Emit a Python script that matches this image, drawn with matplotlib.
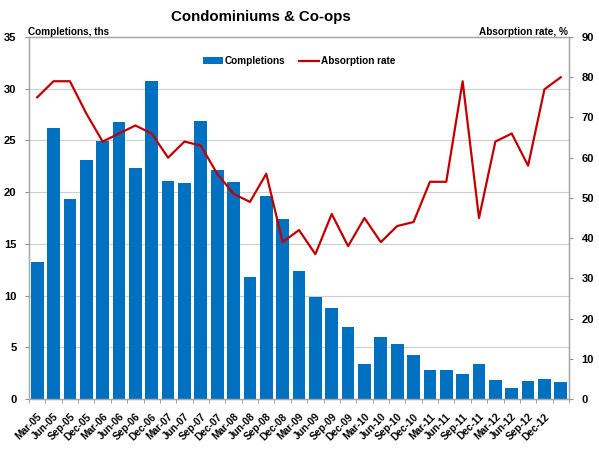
import matplotlib
matplotlib.use("Agg")
import matplotlib.pyplot as plt
import numpy as np

plt.rcParams['font.family'] = ['Liberation Sans', 'DejaVu Sans']
plt.rcParams['font.weight'] = 'bold'

labels = ["Mar-05", "Jun-05", "Sep-05", "Dec-05", "Mar-06", "Jun-06", "Sep-06", "Dec-06",
          "Mar-07", "Jun-07", "Sep-07", "Dec-07", "Mar-08", "Jun-08", "Sep-08", "Dec-08",
          "Mar-09", "Jun-09", "Sep-09", "Dec-09", "Mar-10", "Jun-10", "Sep-10", "Dec-10",
          "Mar-11", "Jun-11", "Sep-11", "Dec-11", "Mar-12", "Jun-12", "Sep-12", "Dec-12", ""]
completions = [13.2, 26.2, 19.3, 23.1, 24.9, 26.8, 22.3, 30.7, 21.1, 20.9, 26.9, 22.1,
               21.0, 11.8, 19.6, 17.4, 12.4, 9.9, 8.8, 7.0, 3.4, 6.0, 5.3, 4.3,
               2.8, 2.8, 2.4, 3.4, 1.8, 1.1, 1.7, 1.9, 1.6]
absorption = [75, 79, 79, 71, 64, 66, 68, 66, 60, 64, 63, 56, 51, 49, 56, 39, 42,
              36, 46, 38, 45, 39, 43, 44, 54, 54, 79, 45, 64, 66, 58, 77, 80]

x = np.arange(len(completions))

fig = plt.figure(figsize=(5.99, 4.5), dpi=100)
ax = fig.add_axes([29/599, 1-399/450, 540/599, 362/450])
ax2 = ax.twinx()

bars = ax.bar(x, completions, width=0.78, color='#0070C0', label='Completions', zorder=2)
line, = ax2.plot(x, absorption, color='#C00000', lw=1.6, label='Absorption rate', zorder=3)

ax.set_xlim(-0.5, len(x) - 0.5)
ax.set_ylim(0, 35)
ax.set_yticks(np.arange(0, 36, 5))
ax2.set_ylim(0, 90)
ax2.set_yticks(np.arange(0, 91, 10))

ax.yaxis.grid(True, color='#CFCFCF', lw=0.8, zorder=0)
ax.set_axisbelow(True)

ax.set_xticks(x)
ax.set_xticklabels(labels, rotation=45, ha='right', rotation_mode='anchor', fontsize=7.3, fontweight='bold')
ax.tick_params(axis='x', which='major', length=0, pad=9)
ax.set_xticks(np.arange(-0.5, len(x), 1), minor=True)
ax.tick_params(axis='x', which='minor', length=3, color='#909090')

ax.tick_params(axis='y', labelsize=8, length=3, color='#909090', pad=6)
ax2.tick_params(axis='y', labelsize=8, length=3, color='#909090', pad=6)
for t in ax.get_yticklabels() + ax2.get_yticklabels():
    t.set_fontweight('bold')

for a in (ax, ax2):
    for s in a.spines.values():
        s.set_color('#A6A6A6')
        s.set_linewidth(0.9)

fig.text(261/599, 1-17/450, 'Condominiums & Co-ops', ha='center', va='center', fontsize=10.8, fontweight='bold')
fig.text(28/599, 1-32/450, 'Completions, ths', ha='left', va='center', fontsize=7.2, fontweight='bold')
fig.text(568/599, 1-32/450, 'Absorption rate, %', ha='right', va='center', fontsize=7.2, fontweight='bold')

leg = ax.legend([bars, line], ['Completions', 'Absorption rate'], loc='center',
                bbox_to_anchor=(0.5, (399-61)/362), ncol=2, frameon=False,
                handlelength=2.0, handletextpad=0.2, columnspacing=1.4,
                prop={'weight': 'bold', 'size': 7.2})
leg.set_zorder(5)

fig.savefig('out.png', dpi=100)
